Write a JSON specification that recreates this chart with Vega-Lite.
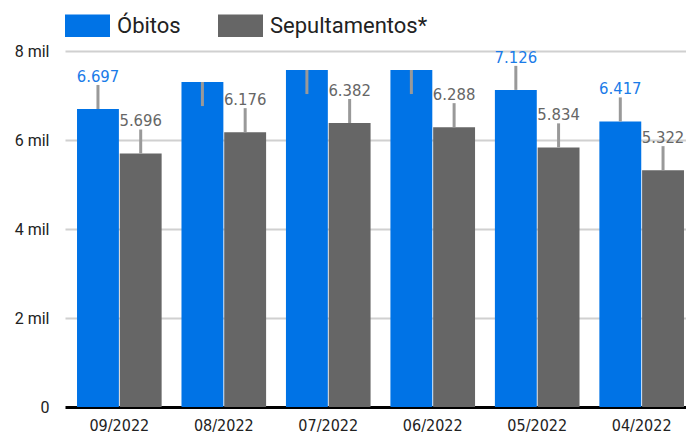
{
  "$schema": "https://vega.github.io/schema/vega-lite/v6.json",
  "width": 621,
  "height": 356,
  "autosize": "none",
  "padding": {"left": 65, "top": 51, "right": 0, "bottom": 26},
  "background": "white",
  "data": {
    "values": [
      {"mes": "09/2022", "serie": "Óbitos", "valor": 6697, "lo": 6697, "hi": 7237, "rotulo": "6.697"},
      {"mes": "09/2022", "serie": "Sepultamentos*", "valor": 5696, "lo": 5696, "hi": 6236, "rotulo": "5.696"},
      {"mes": "08/2022", "serie": "Óbitos", "valor": 7303, "lo": 6763, "hi": 7303, "rotulo": ""},
      {"mes": "08/2022", "serie": "Sepultamentos*", "valor": 6176, "lo": 6176, "hi": 6716, "rotulo": "6.176"},
      {"mes": "07/2022", "serie": "Óbitos", "valor": 7573, "lo": 7033, "hi": 7573, "rotulo": ""},
      {"mes": "07/2022", "serie": "Sepultamentos*", "valor": 6382, "lo": 6382, "hi": 6922, "rotulo": "6.382"},
      {"mes": "06/2022", "serie": "Óbitos", "valor": 7573, "lo": 7033, "hi": 7573, "rotulo": ""},
      {"mes": "06/2022", "serie": "Sepultamentos*", "valor": 6288, "lo": 6288, "hi": 6828, "rotulo": "6.288"},
      {"mes": "05/2022", "serie": "Óbitos", "valor": 7126, "lo": 7126, "hi": 7666, "rotulo": "7.126"},
      {"mes": "05/2022", "serie": "Sepultamentos*", "valor": 5834, "lo": 5834, "hi": 6374, "rotulo": "5.834"},
      {"mes": "04/2022", "serie": "Óbitos", "valor": 6417, "lo": 6417, "hi": 6957, "rotulo": "6.417"},
      {"mes": "04/2022", "serie": "Sepultamentos*", "valor": 5322, "lo": 5322, "hi": 5862, "rotulo": "5.322"}
    ]
  },
  "encoding": {
    "x": {
      "field": "mes",
      "type": "nominal",
      "sort": null,
      "scale": {"paddingInner": 0.19, "paddingOuter": 0.115, "range": [0, 631]},
      "axis": {
        "title": null,
        "labelAngle": 0,
        "ticks": false,
        "domain": false,
        "labelFont": "DejaVu Sans Condensed",
        "labelFontSize": 16,
        "labelColor": "#222222",
        "labelPadding": 10
      }
    },
    "xOffset": {
      "field": "serie",
      "type": "nominal",
      "sort": ["Óbitos", "Sepultamentos*"],
      "scale": {"paddingInner": 0.02}
    }
  },
  "layer": [
    {
      "mark": {"type": "bar"},
      "encoding": {
        "y": {
          "field": "valor",
          "type": "quantitative",
          "scale": {"domain": [0, 8000]},
          "axis": {
            "title": null,
            "values": [0, 2000, 4000, 6000, 8000],
            "labelExpr": "datum.value == 0 ? '0' : (datum.value / 1000) + ' mil'",
            "ticks": false,
            "domain": false,
            "labelFont": "Roboto",
            "labelFontSize": 16,
            "labelColor": "#222222",
            "labelPadding": 16,
            "gridColor": {"condition": {"test": "datum.value === 0", "value": "#000000"}, "value": "#d0d0d0"},
            "gridWidth": {"condition": {"test": "datum.value === 0", "value": 3}, "value": 2}
          }
        },
        "color": {
          "field": "serie",
          "type": "nominal",
          "sort": ["Óbitos", "Sepultamentos*"],
          "scale": {"domain": ["Óbitos", "Sepultamentos*"], "range": ["#0073e6", "#666666"]},
          "legend": {
            "title": null,
            "orient": "none",
            "legendX": 0,
            "legendY": -48,
            "direction": "horizontal",
            "symbolType": "M-1,-0.5H1V0.5H-1Z",
            "symbolSize": 2025,
            "symbolStrokeWidth": 0,
            "symbolOpacity": 1,
            "labelFont": "Roboto",
            "labelFontSize": 22,
            "labelColor": "#222222",
            "labelOffset": 7,
            "columnPadding": 37,
            "padding": 0
          }
        }
      }
    },
    {
      "mark": {"type": "rule", "color": "#999999", "strokeWidth": 3},
      "encoding": {
        "y": {"field": "lo", "type": "quantitative"},
        "y2": {"field": "hi"}
      }
    },
    {
      "mark": {
        "type": "text",
        "font": "DejaVu Sans Condensed",
        "fontSize": 16.5,
        "baseline": "alphabetic",
        "dy": -3
      },
      "encoding": {
        "y": {"field": "hi", "type": "quantitative"},
        "text": {"field": "rotulo"},
        "color": {
          "condition": {"test": "datum.serie === 'Óbitos'", "value": "#1a7be8"},
          "value": "#666666"
        }
      }
    }
  ],
  "config": {
    "view": {"stroke": null}
  }
}
